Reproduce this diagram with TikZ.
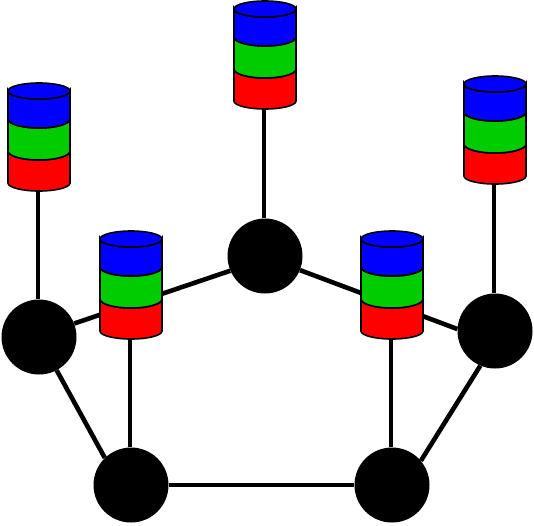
\documentclass[tikz,border=0pt]{standalone}
\definecolor{cblue}{RGB}{0,0,255}
\definecolor{cgreen}{RGB}{0,204,0}
\definecolor{cred}{RGB}{255,0,0}
\tikzset{
  hub/.style={circle,fill=black,draw=none,minimum size=75pt,inner sep=0pt},
  ring/.style={line width=4.6pt,black},
  feed/.style={line width=3.4pt,black},
  cylframe/.style={rectangle,draw=none,minimum width=62pt,minimum height=108pt,inner sep=0pt},
  cylpart/.style={draw=black,line width=1.6pt}
}
% #1 name, #2 centre x, #3 top y
\newcommand{\stackcyl}[3]{%
  \node[cylframe] (#1) at (#2,#3+54) {};
  \begin{scope}[shift={(#2,#3)}]
    \path[cylpart,fill=cred] (-31,68) -- (-31,100) arc[start angle=180,end angle=0,x radius=31,y radius=8] -- (31,68) arc[start angle=0,end angle=180,x radius=31,y radius=9] -- cycle;
    \path[cylpart,fill=cgreen] (-31,36) -- (-31,68) arc[start angle=180,end angle=0,x radius=31,y radius=9] -- (31,36) arc[start angle=0,end angle=180,x radius=31,y radius=9] -- cycle;
    \path[cylpart,fill=cblue] (-31,8) -- (-31,36) arc[start angle=180,end angle=0,x radius=31,y radius=9] -- (31,8) arc[start angle=0,end angle=180,x radius=31,y radius=8] -- cycle;
    \path[cylpart,fill=cblue] (0,8) ellipse[x radius=31,y radius=8];
  \end{scope}}
\begin{document}
\begin{tikzpicture}[x=1pt,y=-1pt]
\useasboundingbox (0,0) rectangle (534,525);
\node[hub] (top) at (265,256) {};
\node[hub] (left) at (39,337) {};
\node[hub] (right) at (495,331) {};
\node[hub] (bl) at (131,485) {};
\node[hub] (br) at (392,485) {};
\draw[ring] (top.203) -- (left.21);
\draw[ring] (top.-22) -- (right.177);
\draw[ring] (left.-62) -- (bl.134);
\draw[ring] (bl.0) -- (br.180);
\draw[ring] (br.40) -- (right.-113);
\stackcyl{ctop}{265}{1}
\stackcyl{cleft}{39}{83}
\stackcyl{cright}{495}{76}
\stackcyl{cbl}{131}{231}
\stackcyl{cbr}{392}{231}
\draw[feed] ([xshift=-1pt]ctop.south) -- ([xshift=-1pt]top.north);
\draw[feed] ([xshift=-1pt]cleft.south) -- ([xshift=-1pt]left.north);
\draw[feed] ([xshift=-1pt]cright.south) -- ([xshift=-1pt]right.north);
\draw[feed] ([xshift=-1pt]cbl.south) -- ([xshift=-1pt]bl.north);
\draw[feed] ([xshift=-1pt]cbr.south) -- ([xshift=-1pt]br.north);
\end{tikzpicture}
\end{document}
